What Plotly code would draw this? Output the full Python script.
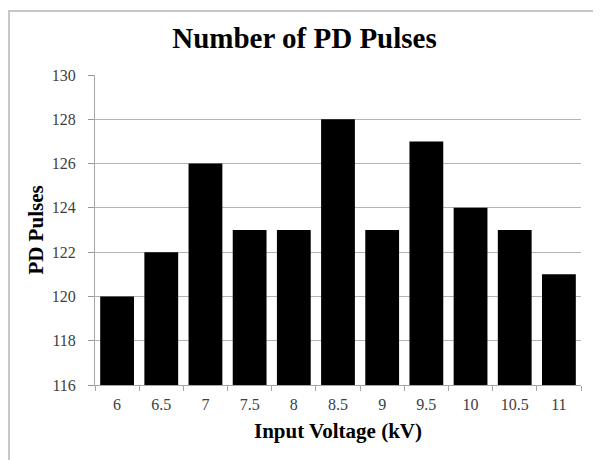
import plotly.graph_objects as go

categories = ["6", "6.5", "7", "7.5", "8", "8.5", "9", "9.5", "10", "10.5", "11"]
pulses = [120, 122, 126, 123, 123, 128, 123, 127, 124, 123, 121]
y_ticks = [116, 118, 120, 122, 124, 126, 128, 130]

OFF = 8  # page body offset
W, H = 601 - OFF, 460 - OFF
L, T = 95 - OFF, 75 - OFF
R = 601 - 581
B = H - T - 310
pw, ph = W - L - R, H - T - B

SERIF = "Liberation Serif"

fig = go.Figure(go.Bar(x=categories, y=pulses, marker=dict(color="black", line=dict(width=0))))
fig.update_layout(
    width=W, height=H,
    margin=dict(l=L, r=R, t=T, b=B),
    paper_bgcolor="white", plot_bgcolor="white",
    bargap=0.235,
    showlegend=False,
    font=dict(family=SERIF, color="#404040", size=16),
    title=dict(text="<b>Number of PD Pulses</b>", x=0.5, xanchor="center", y=1 - (38 - OFF) / H, yanchor="middle",
               font=dict(family=SERIF, size=29, color="black")),
)
fig.update_xaxes(
    type="category", showline=True, linecolor="#a6a6a6", linewidth=1,
    ticks="outside", tickson="boundaries", ticklen=5, tickcolor="#a6a6a6",
    showgrid=False, ticklabelstandoff=5,
    tickfont=dict(family=SERIF, size=16, color="#404040"),
    title=dict(text="<b>Input Voltage (kV)</b>", standoff=11,
               font=dict(family=SERIF, size=21, color="black")),
)
fig.update_yaxes(
    range=[116, 130], tickvals=y_ticks, showline=True, linecolor="#a6a6a6", linewidth=1,
    ticks="outside", ticklen=6, tickcolor="#999999", tickwidth=1,
    showgrid=True, gridcolor="#b3b3b3", gridwidth=1, zeroline=False,
    ticklabelstandoff=9,
    tickfont=dict(family=SERIF, size=16, color="#404040"),
    title=dict(text="<b>PD Pulses</b>", standoff=2,
               font=dict(family=SERIF, size=21, color="black")),
)
# outer chart frame (left and top edges visible)
fx0 = (8 - OFF + 1 - L) / pw
fy1 = (H - B - (11 - OFF)) / ph
fig.add_shape(type="rect", xref="paper", yref="paper", x0=fx0, x1=1.3, y0=-0.6, y1=fy1,
              line=dict(color="#c8c8c8", width=2), layer="below")
fig.write_html("out.html")
